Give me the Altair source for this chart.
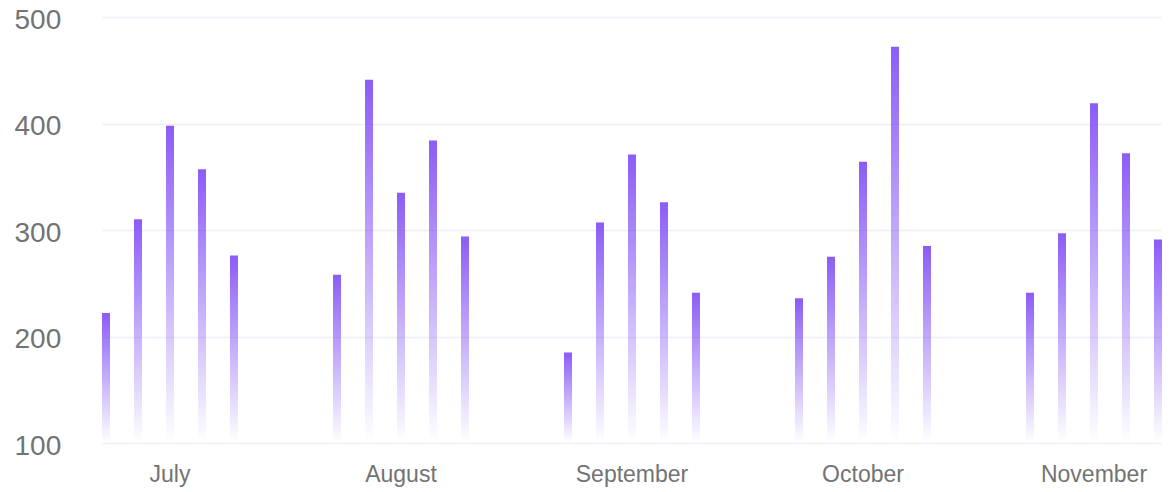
import altair as alt
import pandas as pd

months = ["July", "August", "September", "October", "November"]
slots = ["1", "2", "3", "4", "5"]
july = [222, 310, 398, 357, 276]
august = [258, 441, 335, 384, 294]
september = [185, 307, 371, 326, 241]
october = [236, 275, 364, 472, 285]
november = [241, 297, 419, 372, 291]
y_ticks = [100, 200, 300, 400, 500]

series = [july, august, september, october, november]
rows = []
for m, vals in zip(months, series):
    for s, v in zip(slots, vals):
        rows.append({"month": m, "slot": s, "value": v})
df = pd.DataFrame(rows)

FONT = "Liberation Sans"
LABEL = "#737373"

grad = alt.Gradient(
    gradient="linear",
    stops=[
        alt.GradientStop(color="#8b5cf6", offset=0),
        alt.GradientStop(color="rgba(139,92,246,0)", offset=1),
    ],
    x1=0, x2=0, y1=0, y2=1,
)

chart = alt.Chart(df).mark_bar(color=grad).encode(
    x=alt.X(
        "month:N",
        sort=months,
        scale=alt.Scale(paddingInner=0.4113, paddingOuter=0),
        axis=alt.Axis(
            title=None, labelAngle=0, ticks=False, tickSize=0, domain=False, grid=False,
            labelFont=FONT, labelFontSize=23, labelColor=LABEL,
            labelPadding=38, labelBaseline="alphabetic",
        ),
    ),
    xOffset=alt.XOffset("slot:O", sort=slots, scale=alt.Scale(paddingInner=0.75, paddingOuter=0)),
    y=alt.Y(
        "value:Q",
        scale=alt.Scale(domain=[100, 500], zero=False, nice=False),
        axis=alt.Axis(
            title=None, values=y_ticks, ticks=False, tickSize=0, domain=False,
            gridColor="#eceff3", gridWidth=1.5,
            labelFont=FONT, labelFontSize=28, labelColor=LABEL,
            labelAlign="left", labelPadding=88, labelOffset=3,
        ),
    ),
    y2=alt.datum(100),
).properties(
    width=1060,
    height=426,
    autosize=alt.AutoSizeParams(type="none"),
    padding={"left": 94, "top": 9, "right": 0, "bottom": 48},
).configure_view(strokeWidth=0)

chart.save("out.html", embed_options={"renderer": "svg", "actions": False})
